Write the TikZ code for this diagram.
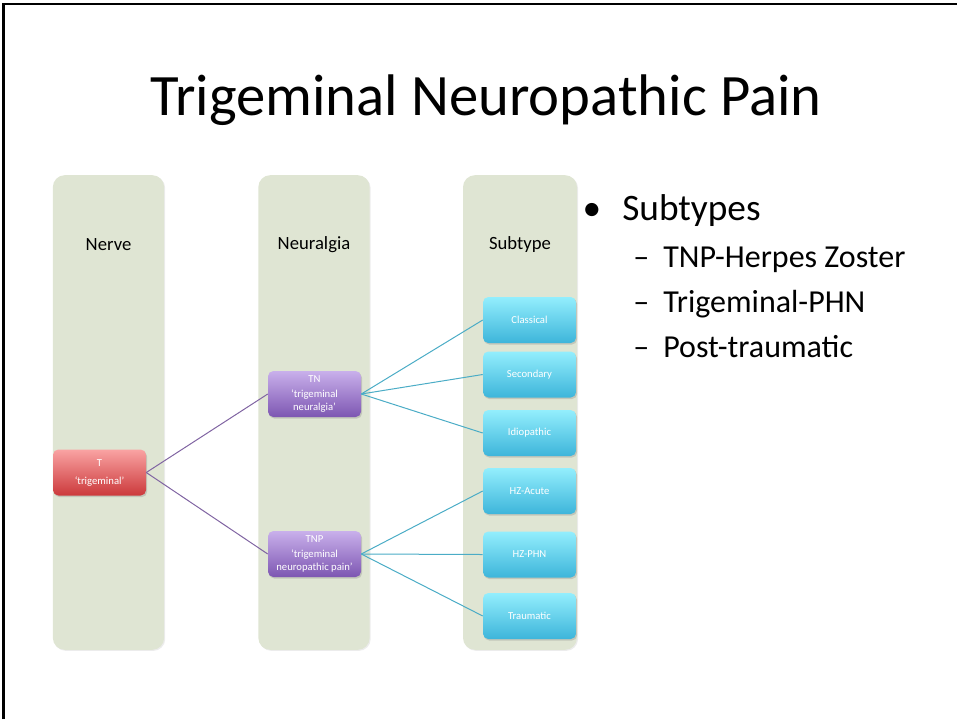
\documentclass[tikz,border=0pt]{standalone}
\usepackage{fontspec}
\setmainfont{Carlito}
\usetikzlibrary{shadows}
\definecolor{colgreen}{HTML}{DFE5D3}
\definecolor{redtop}{HTML}{F9A3A3}
\definecolor{redbot}{HTML}{CB393B}
\definecolor{purtop}{HTML}{C9B0EB}
\definecolor{purbot}{HTML}{7D56B2}
\definecolor{cyantop}{HTML}{93EEFD}
\definecolor{cyanbot}{HTML}{3DB5DA}
\definecolor{purline}{HTML}{8064A2}
\definecolor{cyanline}{HTML}{4BACC6}

\begin{document}
\begin{tikzpicture}[x=0.75pt, y=-0.75pt,
  column/.style={
    fill=colgreen,
    rounded corners=9pt,
    minimum width=83.5pt,
    minimum height=356pt,
    drop shadow={shadow xshift=0.8pt, shadow yshift=-0.8pt, opacity=0.15}
  },
  collabel/.style={font=\fontsize{14}{17}\selectfont},
  box/.style={
    rounded corners=4pt,
    minimum width=69.75pt,
    minimum height=34.5pt,
    inner sep=2pt,
    align=center,
    text=white,
    font=\fontsize{8}{9.5}\selectfont,
    drop shadow={shadow xshift=0.8pt, shadow yshift=-1.2pt, opacity=0.3}
  },
  redbox/.style={box, top color=redtop, bottom color=redbot},
  purbox/.style={box, top color=purtop, bottom color=purbot},
  cyanbox/.style={box, top color=cyantop, bottom color=cyanbot},
  purlink/.style={draw=purline, line width=0.75pt},
  cyanlink/.style={draw=cyanline, line width=0.75pt},
  bodytext/.style={anchor=base west, inner sep=0pt}
]
  \useasboundingbox (0,0) rectangle (957,719);
  \draw[line width=1.8pt] (3.5,719) -- (3.5,4) -- (957,4);

  \node[anchor=base, inner sep=0pt, font=\fontsize{44}{53}\selectfont]
    (title) at (486,115) {Trigeminal Neuropathic Pain};

  \node[column] (nervecol) at (108.5,412.5) {};
  \node[column] (neuralgiacol) at (314,412.5) {};
  \node[column, minimum width=85.5pt] (subtypecol) at (520,412.5) {};

  \node[collabel] (nervelbl) at (108.5,245) {Nerve};
  \node[collabel] (neuralgialbl) at (314,245) {Neuralgia};
  \node[collabel] (subtypelbl) at (520,245) {Subtype};

  \node[redbox] (tbox) at (99.5,472.5) {T\\[4pt]‘trigeminal’};
  \node[purbox] (tnbox) at (314.5,394) {TN\\[2pt]‘trigeminal\\neuralgia’};
  \node[purbox] (tnpbox) at (314.5,554) {TNP\\[2pt]‘trigeminal\\neuropathic pain’};

  \node[cyanbox] (classical) at (529.5,320) {Classical};
  \node[cyanbox] (secondary) at (529.5,374.5) {Secondary};
  \node[cyanbox] (idiopathic) at (529.5,433) {Idiopathic};
  \node[cyanbox] (hzacute) at (529.5,491) {HZ-Acute};
  \node[cyanbox] (hzphn) at (529.5,554.5) {HZ-PHN};
  \node[cyanbox] (traumatic) at (529.5,616) {Traumatic};

  \draw[purlink] (tbox.east) -- (tnbox.west);
  \draw[purlink] (tbox.east) -- (tnpbox.west);
  \draw[cyanlink] (tnbox.east) -- (classical.west);
  \draw[cyanlink] (tnbox.east) -- (secondary.west);
  \draw[cyanlink] (tnbox.east) -- (idiopathic.west);
  \draw[cyanlink] (tnpbox.east) -- (hzacute.west);
  \draw[cyanlink] (tnpbox.east) -- (hzphn.west);
  \draw[cyanlink] (tnpbox.east) -- (traumatic.west);

  \node[anchor=base, inner sep=0pt, font=\fontsize{28}{34}\selectfont]
    (bullet) at (592,220) {•};
  \node[bodytext, font=\fontsize{28}{34}\selectfont] (subtypes) at (622,220) {Subtypes};
  \node[bodytext, font=\fontsize{24}{29}\selectfont] (dashone) at (633,267) {–};
  \node[bodytext, font=\fontsize{24}{29}\selectfont] (herpes) at (663,267) {TNP-Herpes Zoster};
  \node[bodytext, font=\fontsize{24}{29}\selectfont] (dashtwo) at (633,312) {–};
  \node[bodytext, font=\fontsize{24}{29}\selectfont] (phn) at (663,312) {Trigeminal-PHN};
  \node[bodytext, font=\fontsize{24}{29}\selectfont] (dashthree) at (633,357) {–};
  \node[bodytext, font=\fontsize{24}{29}\selectfont] (posttrauma) at (663,357) {Post-traumatic};
\end{tikzpicture}
\end{document}
